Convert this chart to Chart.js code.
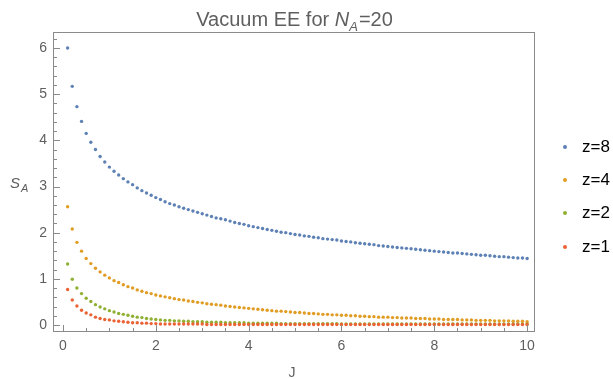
<!DOCTYPE html>
<html>
<head>
<meta charset="utf-8">
<script src="https://cdn.jsdelivr.net/npm/chart.js@4"></script>
<style>
html, body { margin: 0; padding: 0; background: #fff; }
canvas { display: block; }
</style>
</head>
<body>
<canvas id="canvas" width="613" height="379"></canvas>
<script>
var J = [
	0.1, 0.2, 0.3, 0.4, 0.5, 0.6, 0.7, 0.8, 0.9, 1.0,
	1.1, 1.2, 1.3, 1.4, 1.5, 1.6, 1.7, 1.8, 1.9, 2.0,
	2.1, 2.2, 2.3, 2.4, 2.5, 2.6, 2.7, 2.8, 2.9, 3.0,
	3.1, 3.2, 3.3, 3.4, 3.5, 3.6, 3.7, 3.8, 3.9, 4.0,
	4.1, 4.2, 4.3, 4.4, 4.5, 4.6, 4.7, 4.8, 4.9, 5.0,
	5.1, 5.2, 5.3, 5.4, 5.5, 5.6, 5.7, 5.8, 5.9, 6.0,
	6.1, 6.2, 6.3, 6.4, 6.5, 6.6, 6.7, 6.8, 6.9, 7.0,
	7.1, 7.2, 7.3, 7.4, 7.5, 7.6, 7.7, 7.8, 7.9, 8.0,
	8.1, 8.2, 8.3, 8.4, 8.5, 8.6, 8.7, 8.8, 8.9, 9.0,
	9.1, 9.2, 9.3, 9.4, 9.5, 9.6, 9.7, 9.8, 9.9, 10.0
];
var Z8 = [
	6.00, 5.17, 4.73, 4.41, 4.15, 3.96, 3.80, 3.65, 3.53, 3.42,
	3.33, 3.25, 3.17, 3.10, 3.04, 2.97, 2.91, 2.86, 2.81, 2.76,
	2.72, 2.67, 2.63, 2.60, 2.56, 2.53, 2.50, 2.47, 2.44, 2.41,
	2.38, 2.35, 2.32, 2.30, 2.28, 2.25, 2.22, 2.20, 2.18, 2.15,
	2.13, 2.11, 2.09, 2.07, 2.05, 2.03, 2.01, 2.00, 1.98, 1.96,
	1.95, 1.93, 1.92, 1.90, 1.89, 1.87, 1.86, 1.85, 1.84, 1.82,
	1.81, 1.80, 1.78, 1.77, 1.76, 1.75, 1.74, 1.72, 1.71, 1.70,
	1.69, 1.68, 1.67, 1.66, 1.65, 1.64, 1.63, 1.62, 1.61, 1.60,
	1.59, 1.58, 1.57, 1.56, 1.56, 1.55, 1.54, 1.53, 1.52, 1.51,
	1.51, 1.50, 1.49, 1.48, 1.48, 1.47, 1.46, 1.45, 1.45, 1.44
];
var Z4 = [
	2.56, 2.08, 1.79, 1.60, 1.44, 1.33, 1.23, 1.15, 1.08, 1.02,
	0.96, 0.92, 0.87, 0.83, 0.80, 0.76, 0.73, 0.70, 0.68, 0.65,
	0.63, 0.61, 0.59, 0.57, 0.55, 0.54, 0.52, 0.51, 0.49, 0.48,
	0.46, 0.45, 0.44, 0.43, 0.41, 0.40, 0.39, 0.38, 0.37, 0.36,
	0.35, 0.34, 0.33, 0.32, 0.31, 0.30, 0.30, 0.29, 0.28, 0.27,
	0.27, 0.26, 0.25, 0.25, 0.24, 0.23, 0.23, 0.22, 0.22, 0.21,
	0.21, 0.20, 0.20, 0.19, 0.19, 0.18, 0.18, 0.17, 0.17, 0.17,
	0.16, 0.16, 0.15, 0.15, 0.15, 0.14, 0.14, 0.14, 0.13, 0.13,
	0.13, 0.12, 0.12, 0.12, 0.12, 0.11, 0.11, 0.11, 0.10, 0.10,
	0.10, 0.10, 0.09, 0.09, 0.09, 0.09, 0.08, 0.08, 0.08, 0.07
];
var Z2 = [
	1.32, 0.99, 0.80, 0.68, 0.58, 0.51, 0.44, 0.39, 0.35, 0.31,
	0.28, 0.25, 0.23, 0.21, 0.19, 0.17, 0.16, 0.14, 0.13, 0.12,
	0.11, 0.10, 0.10, 0.09, 0.09, 0.08, 0.08, 0.07, 0.07, 0.07,
	0.06, 0.06, 0.06, 0.06, 0.05, 0.05, 0.05, 0.05, 0.05, 0.04,
	0.04, 0.04, 0.04, 0.04, 0.04, 0.04, 0.03, 0.03, 0.03, 0.03,
	0.03, 0.03, 0.03, 0.03, 0.03, 0.03, 0.03, 0.03, 0.03, 0.02,
	0.02, 0.02, 0.02, 0.02, 0.02, 0.02, 0.02, 0.02, 0.02, 0.02,
	0.02, 0.02, 0.02, 0.02, 0.02, 0.02, 0.02, 0.02, 0.02, 0.02,
	0.02, 0.02, 0.02, 0.02, 0.02, 0.02, 0.02, 0.02, 0.02, 0.02,
	0.02, 0.02, 0.02, 0.02, 0.02, 0.02, 0.02, 0.02, 0.02, 0.02
];
var Z1 = [
	0.77, 0.54, 0.41, 0.32, 0.26, 0.22, 0.17, 0.14, 0.12, 0.11,
	0.09, 0.08, 0.07, 0.06, 0.05, 0.05, 0.04, 0.04, 0.03, 0.03,
	0.02, 0.02, 0.02, 0.02, 0.02, 0.02, 0.02, 0.02, 0.02, 0.02,
	0.01, 0.01, 0.01, 0.01, 0.01, 0.01, 0.01, 0.01, 0.01, 0.01,
	0.01, 0.01, 0.01, 0.01, 0.01, 0.01, 0.01, 0.01, 0.01, 0.01,
	0.01, 0.01, 0.01, 0.01, 0.01, 0.01, 0.01, 0.01, 0.01, 0.01,
	0.01, 0.01, 0.01, 0.01, 0.01, 0.01, 0.01, 0.01, 0.01, 0.01,
	0.01, 0.01, 0.01, 0.01, 0.01, 0.01, 0.01, 0.01, 0.01, 0.01,
	0.01, 0.01, 0.01, 0.01, 0.01, 0.01, 0.01, 0.01, 0.01, 0.01,
	0.01, 0.01, 0.01, 0.01, 0.01, 0.01, 0.01, 0.01, 0.01, 0.01
];
var SERIES_LABELS = ["z=8", "z=4", "z=2", "z=1"];
var SERIES_COLORS = ['#5e81b5', '#e19c24', '#8fb032', '#eb6235'];
var X_TICKS = [0, 2, 4, 6, 8, 10];
var Y_TICKS = [0, 1, 2, 3, 4, 5, 6];

var FONT = '"Liberation Sans", Arial, sans-serif';
var GRAY = '#5f5f5f';

function points(ys) {
	return J.map(function (j, i) { return { x: j, y: ys[i] }; });
}

var decor = {
	id: 'decor',
	afterDraw: function (chart) {
		var c = chart.ctx, a = chart.chartArea;
		var xs = chart.scales.x, ys = chart.scales.y;
		c.save();
		// frame
		c.strokeStyle = '#8a8a8a';
		c.lineWidth = 1;
		c.strokeRect(a.left + 0.5, a.top + 0.5, a.right - a.left - 1, a.bottom - a.top - 1);

		// inward ticks, bottom and left
		c.beginPath();
		for (var k = 0; k <= 20; k++) {
			var px = Math.round(xs.getPixelForValue(k * 0.5)) + 0.5;
			var len = (k % 4 === 0) ? 7 : 4;
			c.moveTo(px, a.bottom);
			c.lineTo(px, a.bottom - len);
		}
		for (var m = 0; m <= 31; m++) {
			var py = Math.round(ys.getPixelForValue(m * 0.2)) + 0.5;
			var l2 = (m % 5 === 0) ? 7 : 4;
			c.moveTo(a.left, py);
			c.lineTo(a.left + l2, py);
		}
		c.stroke();

		// title: Vacuum EE for N_A=20
		c.fillStyle = GRAY;
		c.textBaseline = 'alphabetic';
		c.textAlign = 'left';
		var f1 = '20px ' + FONT, fi = 'italic 20px ' + FONT, fs = 'italic 13px ' + FONT;
		c.font = f1; var w1 = c.measureText('Vacuum EE for ').width, w4 = c.measureText('=20').width;
		c.font = fi; var w2 = c.measureText('N').width;
		c.font = fs; var w3 = c.measureText('A').width;
		var tx = (a.left + a.right) / 2 - (w1 + w2 + w3 + w4) / 2;
		c.font = f1; c.fillText('Vacuum EE for ', tx, 26);
		c.font = fi; c.fillText('N', tx + w1, 26);
		c.font = fs; c.fillText('A', tx + w1 + w2, 31);
		c.font = f1; c.fillText('=20', tx + w1 + w2 + w3 + 1, 26);

		// axis labels
		c.font = 'italic 15px ' + FONT;
		c.fillText('S', 10, 188);
		c.font = 'italic 11px ' + FONT;
		c.fillText('A', 21, 192);
		c.font = '14px ' + FONT;
		c.textAlign = 'center';
		c.fillText('J', 292, 377);

		// legend
		var rows = [147, 180, 213, 247];
		c.textAlign = 'left';
		c.textBaseline = 'middle';
		c.font = '17px ' + FONT;
		chart.data.datasets.forEach(function (ds, i) {
			c.fillStyle = ds.backgroundColor;
			c.beginPath();
			c.arc(565, rows[i], 2, 0, Math.PI * 2);
			c.fill();
			c.fillStyle = '#000';
			c.fillText(ds.label, 582, rows[i]);
		});
		c.restore();
	}
};

window.onload = function () {
	var ctx = document.getElementById('canvas').getContext('2d');
	var sets = [Z8, Z4, Z2, Z1];
	window.myChart = new Chart(ctx, {
		type: 'scatter',
		data: {
			datasets: sets.map(function (s, i) {
				return {
					label: SERIES_LABELS[i],
					data: points(s),
					backgroundColor: SERIES_COLORS[i],
					borderColor: SERIES_COLORS[i],
					borderWidth: 0,
					pointRadius: 1.7,
					order: sets.length - i
				};
			})
		},
		options: {
			responsive: false,
			animation: false,
			devicePixelRatio: 1,
			layout: { padding: { left: 0, right: 78, top: 32, bottom: 0 } },
			plugins: {
				legend: { display: false },
				title: { display: false },
				tooltip: { enabled: false }
			},
			scales: {
				x: {
					type: 'linear',
					min: -0.215,
					max: 10.17,
					grid: { display: false, drawTicks: false },
					border: { display: false },
					afterBuildTicks: function (s) { s.ticks = X_TICKS.map(function (v) { return { value: v }; }); },
					afterFit: function (s) { s.height = 47; },
					ticks: { color: GRAY, font: { family: FONT, size: 14 }, padding: 6, maxRotation: 0 }
				},
				y: {
					type: 'linear',
					min: -0.152,
					max: 6.347,
					grid: { display: false, drawTicks: false },
					border: { display: false },
					afterBuildTicks: function (s) { s.ticks = Y_TICKS.map(function (v) { return { value: v }; }); },
					afterFit: function (s) { s.width = 53; },
					ticks: { color: GRAY, font: { family: FONT, size: 14 }, padding: 6 }
				}
			}
		},
		plugins: [decor]
	});
};
</script>
</body>
</html>
